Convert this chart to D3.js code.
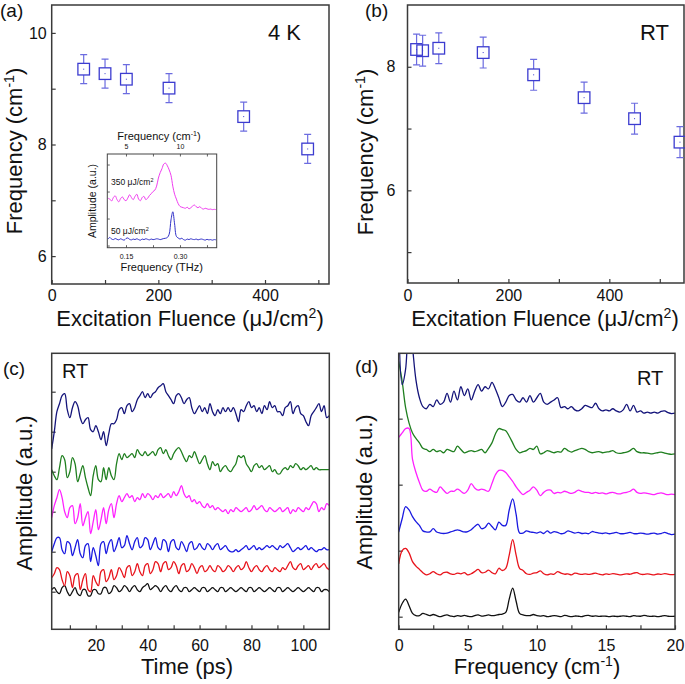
<!DOCTYPE html>
<html lang='en'>
<head>
<meta charset='utf-8'>
<title>Mode softening vs fluence</title>
<script src='https://d3js.org/d3.v7.min.js'></script>
<style>
  body { margin: 0; background: #fff; }
  svg text { font-family: 'Liberation Sans', Arial, sans-serif; fill: #111; }
  .frame { fill: none; stroke: #3a3a3a; stroke-width: 1.5; }
  .axis path { display: none; }
  .axis line { stroke: #3a3a3a; stroke-width: 1.2; }
  .trace { fill: none; stroke-width: 1.3; stroke-linejoin: round; }
</style>
</head>
<body>
<script>
// ---------- (a) 4 K : frequency vs fluence ----------
var fluenceA = [60, 100, 140, 220, 360, 480];
var freqA = [9.35, 9.27, 9.17, 9.01, 8.50, 7.92];
var errA = [0.26, 0.26, 0.26, 0.26, 0.26, 0.26];

// ---------- (b) RT : frequency vs fluence ----------
var fluenceB = [18, 30, 62, 150, 250, 350, 450, 540];
var freqB = [8.28, 8.26, 8.30, 8.23, 7.87, 7.50, 7.16, 6.78];
var errB = [0.25, 0.25, 0.25, 0.25, 0.25, 0.25, 0.25, 0.25];

// ---------- inset of (a): spectra vs THz ----------
var insetFreq = d3.range(0.1, 0.4001, 0.005);
var inset350 = [1.75, 1.72, 1.65, 1.78, 1.84, 1.70, 1.62, 1.74, 1.80, 1.70,
  1.66, 1.76, 1.88, 1.78, 1.70, 1.82, 1.90, 1.72, 1.66, 1.78,
  1.82, 1.70, 1.75, 1.85, 1.92, 2.00, 2.05, 2.20, 2.50, 2.70,
  2.85, 3.02, 3.05, 2.95, 2.80, 2.60, 2.20, 1.90, 1.72, 1.55,
  1.45, 1.42, 1.40, 1.38, 1.42, 1.36, 1.40, 1.46, 1.50, 1.44,
  1.40, 1.44, 1.38, 1.35, 1.38, 1.36, 1.34, 1.35, 1.33, 1.34, 1.33];
var inset50 = [0.24, 0.30, 0.24, 0.22, 0.26, 0.23, 0.21, 0.25, 0.22, 0.20,
  0.26, 0.28, 0.23, 0.21, 0.24, 0.22, 0.25, 0.22, 0.20, 0.24,
  0.22, 0.25, 0.23, 0.21, 0.24, 0.22, 0.23, 0.25, 0.24, 0.22,
  0.24, 0.26, 0.27, 0.30, 0.42, 0.95, 1.25, 0.80, 0.34, 0.28,
  0.24, 0.27, 0.22, 0.20, 0.24, 0.22, 0.25, 0.23, 0.22, 0.24,
  0.21, 0.23, 0.24, 0.22, 0.20, 0.23, 0.21, 0.22, 0.20, 0.22, 0.21];

// ---------- (c) RT time traces (1 ps steps from 3 ps) ----------
var timePs = d3.range(3, 111, 1);
var offsetsC = [1, 12, 22, 41, 62, 88];
var traceC = [
  // black
  [0, 1, -1, -2, 1, 2, -1, -3, -1, 1, -2, -3, 0, 0, -3, -3, 0, 0, -2, -2,
   1, 1, -2, -1, 2, 1, -1, 0, 2, 1, -1, 1, 2, 0, -1, 1, 2, 3, 0, 1,
   2, 1, -1, 1, 2, 0, -1, 1, 2, 0, -1, 1, 1, -1, 0, 1, 0, -1, 1, 1,
   -1, 0, 1, 0, -1, 1, 1, -1, 0, 1, 0, -1, 0, 1, 0, -1, 1, 1, -1, 0,
   1, 0, -1, 0, 1, 0, -1, 1, 1, -1, 0, 1, 0, -1, 0, 1, 0, -1, 0, 1,
   0, -1, 1, 1, -1, 0, 0, -1],
  // red
  [-5, -3, 0, -1, -6, -9, -2, -4, -10, -4, -3, -11, -6, -3, -11, -12, -4, -7, -9, -2,
   -1, -7, -5, -1, -6, -4, 0, -2, -5, 0, 1, -4, -2, 2, -2, -4, 1, 2, -3, -1,
   3, 2, -2, 2, 3, -1, 0, 3, 1, -3, 1, 2, -2, -1, 2, 0, -3, 0, 1, -2,
   -1, 1, -1, -2, 1, 0, -2, -1, 1, 0, -2, 0, 1, -1, 0, 3, 0, -2, 0, 1,
   -1, -2, 0, 1, -1, -2, 0, -1, -2, 0, -1, 1, 3, 0, -1, 1, 2, -1, 0, 1,
   -1, 1, 2, 0, 1, 2, 0, -1],
  // blue
  [-2, 2, 5, 5, -1, -3, 3, 2, -4, 0, 4, -3, -5, 1, 2, -7, 0, -4, -9, 2,
   3, -3, 2, 4, -2, 1, 5, 0, 1, 6, 2, -1, 3, 5, 0, 1, 5, 4, -1, 2,
   5, 0, -1, 4, 3, -2, 3, 4, 0, -1, 3, 1, -2, 2, 3, -1, 0, 2, 0, -1,
   2, 1, -1, 1, 2, -1, 0, 1, -1, -2, -2, -1, -2, -1, 0, 1, -1, 0, 1, -1,
   0, -1, 0, 1, 0, 1, 0, -1, 1, 0, 1, 2, 0, -2, -1, 0, -1, 0, 1, -1,
   0, -1, -2, -1, -1, 0, -1, -1],
  // magenta
  [-4, 2, 6, 10, 6, -1, -4, 1, 2, -7, -4, 3, -8, -4, -1, -12, -6, 0, -10, -5,
   1, -7, 0, 3, -4, 3, 7, 4, 6, 8, 6, 7, 4, 6, 5, 8, 6, 8, 7, 5,
   7, 6, 8, 6, 7, 8, 6, 9, 7, 9, 12, 8, 6, 7, 4, 5, 3, 4, 2, 1,
   3, 1, 2, 0, 1, 0, -1, 0, -2, 0, -1, 1, 0, -1, 0, 1, -1, 0, 2, 0,
   1, 2, 0, -1, 1, 0, -1, 0, 1, -1, 0, 1, -2, 0, -1, 1, 0, -1, 1, 0,
   2, 4, 3, -1, 1, 0, 3, 2],
  // green
  [-1, -4, -6, 0, 6, 4, -5, -2, 5, 2, -7, -3, 1, -5, -10, -14, -4, 1, -6, -7,
   0, -6, 0, -4, -6, 2, 7, 4, 7, 5, 6, 7, 5, 9, 7, 6, 8, 6, 7, 8,
   6, 9, 10, 7, 9, 6, 4, 7, 9, 10, 8, 5, 3, 6, 5, 8, 5, 2, 4, 6,
   2, -1, 3, 1, 2, -2, 0, 1, -1, -2, 0, 2, 6, 5, 6, 2, 0, -2, 1, 2,
   0, 1, -1, 0, 1, -2, -1, -3, -3, -1, 0, -1, 1, 0, 2, 1, -1, 0, -1, 0,
   1, -1, 0, -1, -1, -1, -1, -1],
  // navy
  [-16.6, -8, 2, 6, 10, 11, 3, -1, 4, 7, 5, -1, -4, -2, -1, -7, -8, -5, -8, -12,
   -8, -15, -9, -4, -4, -2, 3, 4, 1, 5, 6, 2, 4, 8, 10, 12, 9, 11, 9, 11,
   12, 14, 15, 16, 12, 10, 8, 6, 10, 11, 9, 6, 8, 9, 4, 1, 3, 5, 2, 4,
   1, 6, 2, 0, 3, 1, 4, 2, 4, 2, 4, 1, -3, 3, 2, 5, 7, 4, 5, 2,
   4, 1, 5, 3, 7, 4, 5, 2, 2, 0, 4, 5, 7, 1, 4, 5, 1, 0, -3, -5,
   0, 2, 4, 6, 2, 5, -1, 0]
];

// ---------- (d) RT spectra (0.25 cm-1 steps) ----------
var freqCm = d3.range(0, 20.001, 0.25);
var offsetsD = [0, 19, 37.5, 55.5, 74, 92.5];
var traceD = [
  // black
  [2, 6, 8, 5, 1.5, 0.5, 0.5, 1.5, 1, 0.5, 1, 0.5, 0, 0.5, 0.8, 0.3,
   0, 0.5, 0.2, 0.6, 0.2, 0, 0.5, 0.8, 0.3, 0.5, 0.8, 0.5, 0.6, 1, 1.2, 2,
   8, 13, 7, 1.5, 0.8, 0.5, 0.5, 1, 0.5, 0.3, 0.5, 0, 0.2, 0.5, 0.3, 0,
   0.6, 0.3, 0, 0.3, 0.2, 0, 0.5, 0.6, 0.2, 0.4, 0.1, 0.3, 0.2, 0, 0.3, 0.1,
   0.2, 0.4, 0.2, 0, 0.5, 0.3, 0.2, 0.6, 0.3, 0.1, 0.3, 0, 0.2, 0.5, 0.2, 0.1, 0.2],
  // red
  [5, 11, 12, 10, 6, 4, 2.5, 1, 0, 0.5, 1.5, 0.5, 0, 1, 1.2, 0.5,
   0.2, 0.8, 0.5, 1, 0, 0.5, 1.5, 2.5, 1, 1.2, 2.2, 1, 0.5, 3, 2, 3,
   9, 16, 9, 3, 2, 0.5, 0.2, 0.8, 1, 1.8, 0.5, 0, 0.5, 0.3, 1.5, 0.8,
   0.3, 0.5, 0, 0.8, 0.5, 0.2, 0.5, 0.2, 0.5, 0.8, 0.3, 0, 0.5, 0.2, 0.6, 0.3,
   0, 0.2, 0.5, 0.3, 0.8, 1, 0.3, 0.2, 0.5, 0.2, 0, 0.4, 0.2, 0.6, 0.3, 0.1, 0.2],
  // blue
  [1, 7, 12.5, 11, 8, 5.7, 4, 1.5, 1, 1, 2.5, 1, 0.5, 0.3, 0.5, 1,
   1.5, 2, 1.5, 1, 1.2, 2, 3.5, 4.5, 2.5, 3, 5, 3.5, 2, 5.5, 4, 4,
   11, 16, 9, 0.5, 0.5, 1.5, 1, 0.8, 0.5, 1, 0.3, 1.5, 0.5, 1.2, 0.8, 0.2,
   0.5, 1.5, 1, 0.5, 0.8, 0.3, 0.5, 0.2, 1.2, 0.8, 0.5, 0.3, 0.6, 0.2, 0.5, 0.8,
   0.3, 0.2, 0.5, 0.8, 0.3, 0.2, 0.5, 0.3, 0, 0.3, 0.5, 0, 0.3, 0.8, 0.3, -0.2, 0],
  // magenta
  [26, 28, 30, 30, 16, 10, 5.5, 2, 1.5, 2.5, 1.5, 1, 3.5, 2, 0.5, 1.5,
   1.5, 2.5, 1.5, 0.5, 2, 5, 3, 2, 2.5, 2, 1.5, 5, 9, 11, 11, 10,
   8, 6, 3.5, 1.5, 0, 1, 2, 3.5, 2, -0.5, 1, 2, 2, 0.5, 1, 0.8,
   1.5, 1, 0.5, 1, 2, 1.5, 1, 1, 0.5, 1, 0.5, 0.8, 0.3, 0.8, 1, 0.5,
   0.3, 0.8, 1, 1.5, 2.5, 1, 0.5, 0.8, 0.5, 0.2, 0, 0.5, 0.8, 0.3, 0, 0.2, 0],
  // green
  [42, 33, 21, 14, 9.5, 7, 5, 2.5, 2, 1, 2, 1, 1.5, 0.5, 2, 1.5,
   1, 3.5, 2, 0.5, 1, 1.5, 1, 1.5, 2, 0.5, 2.5, 5, 9, 11.5, 11, 10.5,
   8, 5, 2, 0.5, 1, 1.5, 2.5, 2, 3.5, 0, 0.5, 1.5, 1, 0.5, 1, 0.8,
   2.5, 1.5, 0.8, 1.5, 2, 2.5, 2, 1, 0.5, 0.8, 1, 0.5, 0.8, 1, 1.5, 0.5,
   0.2, 0.5, 0.8, 1.5, 2.5, 1, 0.5, 0.5, 0.3, 0, 0.2, 0.5, 0.8, 0.3, 0, -0.2, 0],
  // navy
  [45, 13, 20, 45, 30, 15, 7, 3, 2, 4, 3, 6, 4, 5, 9, 5,
   10, 6, 12, 8, 11, 6, 10, 13, 10, 12, 11, 14, 11, 7, 3, 5,
   8, 8.5, 6, 5, 7, 5, 8, 5, 7, 9, 5, 4, 5, 6, 7, 2.5,
   3, 2, 3, 1.5, 1, 2, 3.5, 3, 2.5, 4.5, 2, 1, 1.5, 1, 2, 1,
   0.5, 1.5, 4, 1, 3.5, 0.5, 1, 0, 0.5, 0, 0.5, 0, 0.8, 1, 0.2, -0.2, 0]
];

var traceColors = ['#111111', '#e8141c', '#1a1ae0', '#ff22ff', '#1f7f1f', '#14147a'];
var markColor = '#3c3cd0', barColor = '#6c6ce0';

var svg = d3.select('body').append('svg').attr('width', 685).attr('height', 684);

function frame(g, x, y) {
  g.append('rect').attr('class', 'frame')
    .attr('x', x.range()[0]).attr('y', y.range()[1])
    .attr('width', x.range()[1] - x.range()[0])
    .attr('height', y.range()[0] - y.range()[1]);
}

function axis(g, gen, tr, ticks, labels, fmt, size, pad, fs) {
  var a = gen.tickValues(ticks).tickSizeInner(-size).tickSizeOuter(0).tickPadding(pad)
    .tickFormat(function(d) { return labels.indexOf(d) >= 0 ? fmt(d) : ''; });
  var ag = g.append('g').attr('class', 'axis').attr('transform', tr).call(a);
  ag.selectAll('text').style('font-size', fs + 'px');
  return ag;
}

// text with a superscript piece: parts = [[str, isSup], ...]
function label(g, x, y, parts, fs, anchor, rot) {
  var t = g.append('text').attr('text-anchor', anchor || 'middle').style('font-size', fs + 'px');
  if (rot) t.attr('transform', 'translate(' + x + ',' + y + ') rotate(-90)');
  else t.attr('x', x).attr('y', y);
  var up = 0;
  parts.forEach(function(p) {
    var s = t.append('tspan').text(p[0]);
    if (p[1]) { s.attr('dy', -0.36 * fs).style('font-size', (0.64 * fs) + 'px'); up = 1; }
    else if (up) { s.attr('dy', 0.36 * fs); up = 0; }
  });
  return t;
}

function points(g, x, y, xs, ys, es) {
  var half = 5.8, cap = 3.5;
  var pts = g.selectAll('g.pt').data(d3.zip(xs, ys, es)).join('g').attr('class', 'pt');
  pts.append('path')
    .attr('d', function(d) {
      var cx = x(d[0]), cy = y(d[1]), t = y(d[1] + d[2]), b = y(d[1] - d[2]);
      return 'M' + cx + ',' + t + 'V' + (cy - half) + 'M' + cx + ',' + (cy + half) + 'V' + b +
        'M' + (cx - cap) + ',' + t + 'H' + (cx + cap) + 'M' + (cx - cap) + ',' + b + 'H' + (cx + cap);
    })
    .attr('fill', 'none').attr('stroke', barColor).attr('stroke-width', 1.2);
  pts.append('rect')
    .attr('x', function(d) { return x(d[0]) - half; })
    .attr('y', function(d) { return y(d[1]) - half; })
    .attr('width', 2 * half).attr('height', 2 * half)
    .attr('fill', 'none').attr('stroke', markColor).attr('stroke-width', 1.3);
  pts.append('rect')
    .attr('x', function(d) { return x(d[0]) - 0.5; })
    .attr('y', function(d) { return y(d[1]) - 0.5; })
    .attr('width', 1).attr('height', 1).attr('fill', markColor);
}

var fluenceLabel = [['Excitation Fluence (\u03bcJ/cm'], ['2', 1], [')']];
var freqLabel = [['Frequency (cm'], ['-1', 1], [')']];

// ---------- panel (a) ----------
var ga = svg.append('g');
var xa = d3.scaleLinear().domain([0, 520]).range([51.7, 329]);
var ya = d3.scaleLinear().domain([5.5, 10.5]).range([284, 5]);
axis(ga, d3.axisBottom(xa), 'translate(0,284)', [0, 100, 200, 300, 400, 500], [0, 200, 400], d3.format('d'), 4, 6, 16);
axis(ga, d3.axisLeft(ya), 'translate(51.7,0)', [6, 7, 8, 9, 10], [6, 8, 10], d3.format('d'), 4, 5, 16);
frame(ga, xa, ya);
points(ga, xa, ya, fluenceA, freqA, errA);
label(ga, 190, 326, fluenceLabel, 22);
label(ga, 22, 151, freqLabel, 22, 'middle', true);
ga.append('text').attr('x', 0).attr('y', 17).style('font-size', '19px').text('(a)');
ga.append('text').attr('x', 268).attr('y', 40).style('font-size', '22px').text('4 K');

// inset
var gi = ga.append('g');
var xi = d3.scaleLinear().domain([0.098, 0.402]).range([107.3, 216.7]);
var xiCm = d3.scaleLinear().domain([0.098 * 33.356, 0.402 * 33.356]).range([107.3, 216.7]);
var yi = d3.scaleLinear().domain([-0.08, 3.39]).range([247.7, 154]);
gi.append('rect').attr('x', 107.3).attr('y', 154).attr('width', 109.4).attr('height', 93.7).attr('fill', '#fff');
axis(gi, d3.axisBottom(xi), 'translate(0,247.7)', [0.15, 0.225, 0.3, 0.375], [0.15, 0.3], d3.format('.2f'), 2.5, 6, 7);
axis(gi, d3.axisTop(xiCm), 'translate(0,154)', [5, 7.5, 10, 12.5], [5, 10], d3.format('d'), 2.5, 5, 7);
axis(gi, d3.axisLeft(yi), 'translate(107.3,0)', [0, 1, 2, 3], [], d3.format('d'), 2.5, 3, 7);
gi.selectAll('.axis line').style('stroke-width', 0.8);
gi.append('rect').attr('x', 107.3).attr('y', 154).attr('width', 109.4).attr('height', 93.7)
  .attr('fill', 'none').attr('stroke', '#444').attr('stroke-width', 1);
var lineI = d3.line().curve(d3.curveCatmullRom)
  .x(function(d, i) { return xi(insetFreq[i]); }).y(function(d) { return yi(d); });
gi.append('path').attr('class', 'trace').attr('d', lineI(inset350)).attr('stroke', '#f03cf0').style('stroke-width', 1);
gi.append('path').attr('class', 'trace').attr('d', lineI(inset50)).attr('stroke', '#3030c8').style('stroke-width', 1);
label(gi, 159, 140, freqLabel, 11);
label(gi, 161.7, 271, [['Frequency (THz)']], 11);
label(gi, 96, 201, [['Amplitude (a.u.)']], 10.5, 'middle', true);
label(gi, 111, 185, [['350 \u03bcJ/cm'], ['2', 1]], 8.5, 'start');
label(gi, 111, 234, [['50 \u03bcJ/cm'], ['2', 1]], 8.5, 'start');

// ---------- panel (b) ----------
var gb = svg.append('g');
var xb = d3.scaleLinear().domain([0, 548]).range([407.5, 684]);
var yb = d3.scaleLinear().domain([4.5, 9.0]).range([283, 5]);
axis(gb, d3.axisBottom(xb), 'translate(0,283)', [0, 100, 200, 300, 400, 500], [0, 200, 400], d3.format('d'), 4, 7, 16);
axis(gb, d3.axisLeft(yb), 'translate(407.5,0)', [5, 6, 7, 8], [6, 8], d3.format('d'), 4, 12, 16);
frame(gb, xb, yb);
points(gb, xb, yb, fluenceB, freqB, errB);
label(gb, 545, 326, fluenceLabel, 22);
label(gb, 373, 152, freqLabel, 22, 'middle', true);
gb.append('text').attr('x', 365).attr('y', 17).style('font-size', '19px').text('(b)');
gb.append('text').attr('x', 640).attr('y', 40).style('font-size', '22px').text('RT');

// ---------- panel (c) ----------
var gc = svg.append('g');
var xc = d3.scaleLinear().domain([3, 110]).range([51.7, 329.3]);
var yc = d3.scaleLinear().domain([-18.8, 119.2]).range([629.3, 353.3]);
axis(gc, d3.axisBottom(xc), 'translate(0,629.3)', d3.range(10, 101, 10), [20, 40, 60, 80, 100], d3.format('d'), 4, 10, 16);
axis(gc, d3.axisLeft(yc), 'translate(51.7,0)', [0, 20, 40, 60, 80, 100], [], d3.format('d'), 4, 4, 16);
gc.append('clipPath').attr('id', 'clipC').append('rect')
  .attr('x', 51.7).attr('y', 353.3).attr('width', 277.6).attr('height', 276);
var gcl = gc.append('g').attr('clip-path', 'url(#clipC)');
traceC.forEach(function(vals, k) {
  var line = d3.line().curve(d3.curveCatmullRom)
    .x(function(d, i) { return xc(timePs[i]); })
    .y(function(d) { return yc(d + offsetsC[k]); });
  gcl.append('path').attr('class', 'trace').attr('d', line(vals)).attr('stroke', traceColors[k]);
});
frame(gc, xc, yc);
label(gc, 187, 674, [['Time (ps)']], 22);
label(gc, 32, 493, [['Amplitude (a.u.)']], 22, 'middle', true);
gc.append('text').attr('x', 3).attr('y', 375).style('font-size', '19px').text('(c)');
gc.append('text').attr('x', 62).attr('y', 378).style('font-size', '20px').text('RT');

// ---------- panel (d) ----------
var gd = svg.append('g');
var xd = d3.scaleLinear().domain([0, 20]).range([398.7, 675]);
var yd = d3.scaleLinear().domain([-5.73, 119.7]).range([629.3, 353.3]);
axis(gd, d3.axisBottom(xd), 'translate(0,629.3)', d3.range(0, 20.1, 2.5), [0, 5, 10, 15, 20], d3.format('d'), 4, 10, 16);
axis(gd, d3.axisLeft(yd), 'translate(398.7,0)', [0, 30, 60, 90], [], d3.format('d'), 4, 4, 16);
gd.append('clipPath').attr('id', 'clipD').append('rect')
  .attr('x', 398.7).attr('y', 353.3).attr('width', 276.3).attr('height', 276);
var gdl = gd.append('g').attr('clip-path', 'url(#clipD)');
traceD.forEach(function(vals, k) {
  var line = d3.line().curve(d3.curveCatmullRom)
    .x(function(d, i) { return xd(freqCm[i]); })
    .y(function(d) { return yd(d + offsetsD[k]); });
  gdl.append('path').attr('class', 'trace').attr('d', line(vals)).attr('stroke', traceColors[k]);
});
frame(gd, xd, yd);
label(gd, 537, 674, freqLabel, 22);
label(gd, 372, 492, [['Amplitude (a.u.)']], 22, 'middle', true);
gd.append('text').attr('x', 355).attr('y', 373).style('font-size', '19px').text('(d)');
gd.append('text').attr('x', 637).attr('y', 385).style('font-size', '20px').text('RT');
</script>
</body>
</html>
